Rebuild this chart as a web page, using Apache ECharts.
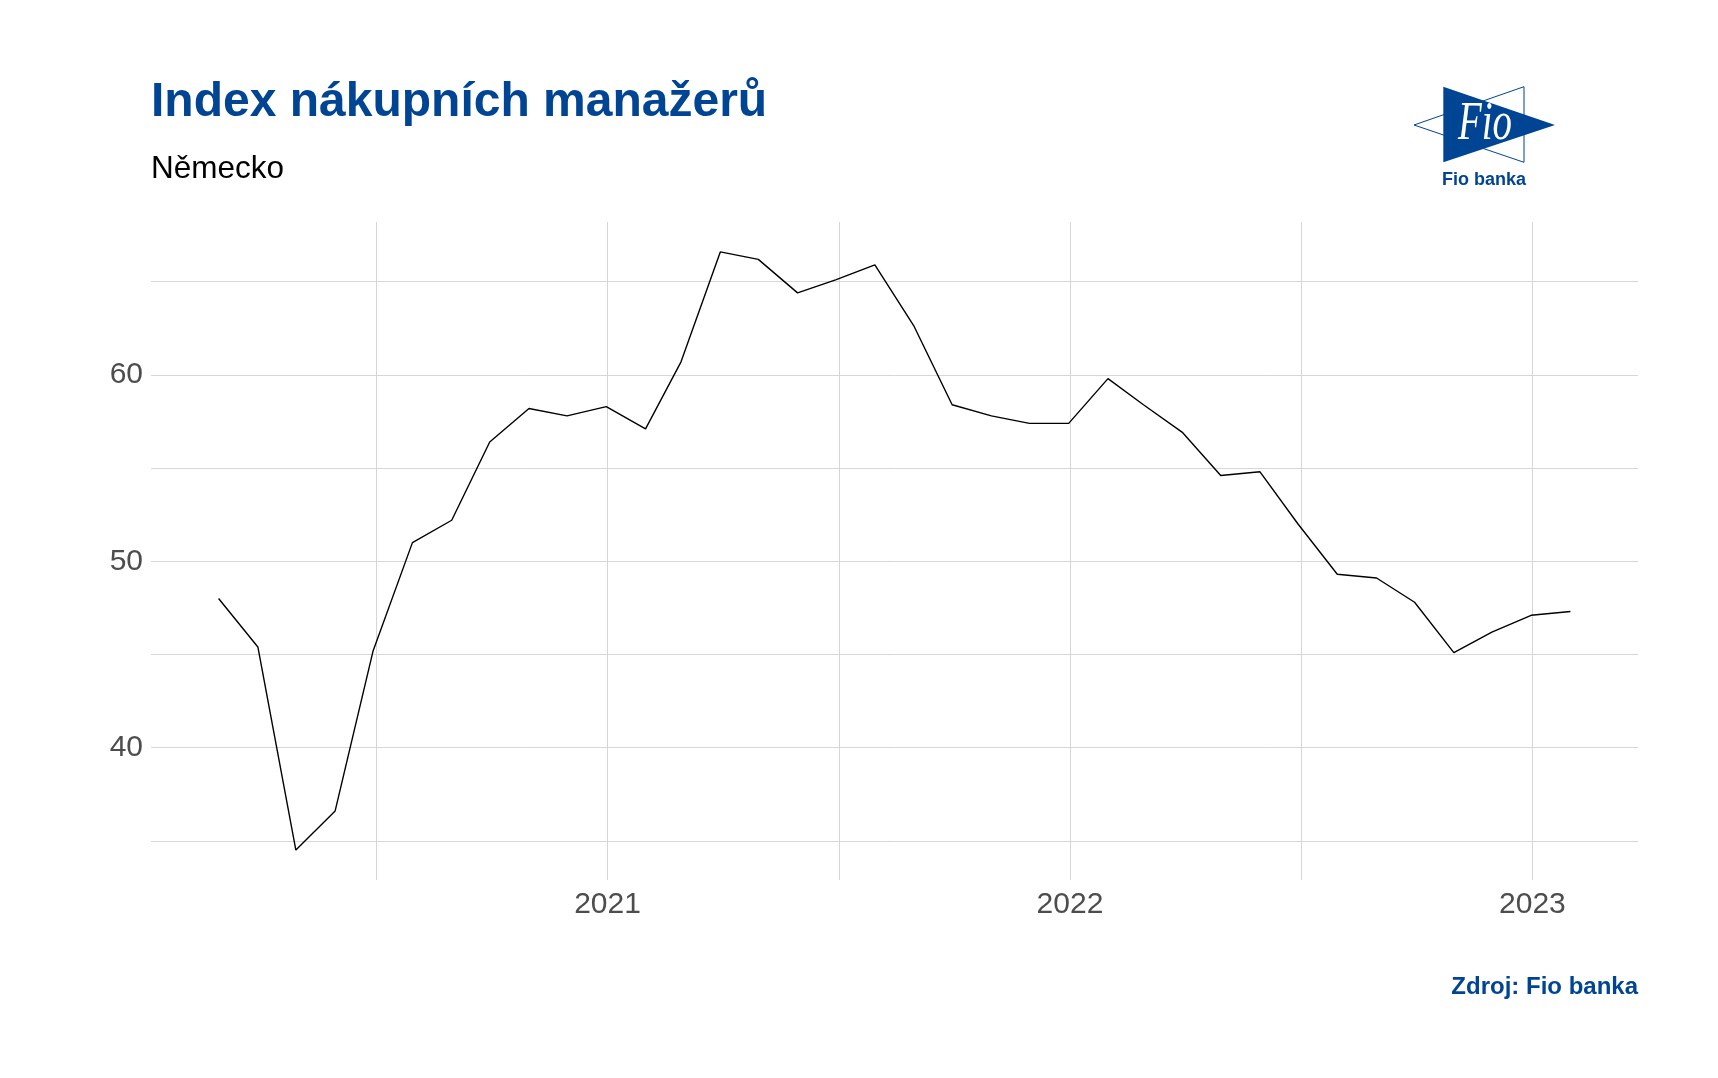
<!DOCTYPE html>
<html>
<head>
<meta charset="utf-8">
<script src="https://cdn.jsdelivr.net/npm/echarts@6/dist/echarts.min.js"></script>
<style>
html,body{margin:0;padding:0;background:#ffffff;}
#chart{width:1718px;height:1078px;}
</style>
</head>
<body>
<div id="chart"></div>
<script>
// Monthly dates (month-end)
const months = [
  '2020-02-29','2020-03-31','2020-04-30','2020-05-31','2020-06-30','2020-07-31',
  '2020-08-31','2020-09-30','2020-10-31','2020-11-30','2020-12-31',
  '2021-01-31','2021-02-28','2021-03-31','2021-04-30','2021-05-31','2021-06-30',
  '2021-07-31','2021-08-31','2021-09-30','2021-10-31','2021-11-30','2021-12-31',
  '2022-01-31','2022-02-28','2022-03-31','2022-04-30','2022-05-31','2022-06-30',
  '2022-07-31','2022-08-31','2022-09-30','2022-10-31','2022-11-30','2022-12-31',
  '2023-01-31'
];
// PMI values (Germany)
const pmi = [
  48.0, 45.4, 34.5, 36.6, 45.2, 51.0, 52.2, 56.4, 58.2, 57.8, 58.3,
  57.1, 60.7, 66.6, 66.2, 64.4, 65.1, 65.9, 62.6, 58.4, 57.8, 57.4, 57.4,
  59.8, 58.4, 56.9, 54.6, 54.8, 52.0, 49.3, 49.1, 47.8, 45.1, 46.2, 47.1,
  47.3
];
// x-axis breaks: labelled years and mid-year minor gridlines
const majorBreaks = ['2021-01-01', '2022-01-01', '2023-01-01'];
const minorBreaks = ['2020-07-02 12:00', '2021-07-02 12:00', '2022-07-02 12:00'];
const yLabelValues = [40, 50, 60];
const titleText = 'Index nákupních manažerů';
const subtitleText = 'Německo';
const sourceText = 'Zdroj: Fio banka';

const BLUE = '#004494';
const GRID = '#d6d6d6';

const seriesData = months.map((m, i) => [m, pmi[i]]);
const expand = v => 0.05 * (v.max - v.min);
const majorTs = majorBreaks.map(d => echarts.time.parse(d).getTime());

const chart = echarts.init(document.getElementById('chart'), null, {renderer: 'canvas'});
chart.setOption({
  backgroundColor: '#ffffff',
  animation: false,
  grid: {left: 151, right: 80, top: 222, bottom: 198, containLabel: false},
  xAxis: {
    type: 'time',
    min: v => v.min - expand(v),
    max: v => v.max + expand(v),
    splitNumber: 6,
    axisLine: {show: false},
    axisTick: {show: false},
    splitLine: {show: false},
    axisLabel: {
      show: true,
      margin: 10,
      hideOverlap: false,
      showMinLabel: false,
      showMaxLabel: false,
      color: '#4d4d4d',
      fontSize: 30,
      fontFamily: 'Liberation Sans',
      formatter: function (val) {
        const t = typeof val === 'number' ? val : +val;
        return majorTs.indexOf(t) >= 0 ? String(new Date(t).getFullYear()) : '';
      }
    }
  },
  yAxis: {
    type: 'value',
    min: v => v.min - expand(v),
    max: v => v.max + expand(v),
    splitNumber: 7,
    minInterval: 5,
    maxInterval: 5,
    axisLine: {show: false},
    axisTick: {show: false},
    splitLine: {show: true, showMinLine: false, showMaxLine: false, lineStyle: {color: GRID, width: 1}},
    axisLabel: {
      margin: 8,
      showMinLabel: false,
      showMaxLabel: false,
      color: '#4d4d4d',
      fontSize: 30,
      fontFamily: 'Liberation Sans',
      formatter: function (val) {
        return yLabelValues.indexOf(Math.round(val * 1000) / 1000) >= 0 ? String(val) : '';
      }
    }
  },
  series: [
    {
      type: 'line',
      data: [],
      z: 0,
      silent: true,
      markLine: {
        z: 0,
        silent: true,
        symbol: ['none', 'none'],
        label: {show: false},
        emphasis: {disabled: true},
        animation: false,
        lineStyle: {color: GRID, width: 1, type: 'solid'},
        data: majorBreaks.concat(minorBreaks).map(d => ({xAxis: d}))
      }
    },
    {
      type: 'line',
      z: 10,
      data: seriesData,
      showSymbol: false,
      symbol: 'none',
      lineStyle: {color: '#000000', width: 1.4},
      itemStyle: {color: '#000000'}
    }
  ],
  graphic: [
    {type: 'text', x: 151, y: 102.5,
      style: {text: titleText, fill: BLUE, fontSize: 48, fontWeight: 'bold', fontFamily: 'Liberation Sans',
        align: 'left', verticalAlign: 'middle', textAlign: 'left', textVerticalAlign: 'middle'}},
    {type: 'text', x: 151, y: 169.5,
      style: {text: subtitleText, fill: '#000000', fontSize: 31.5, fontFamily: 'Liberation Sans',
        align: 'left', verticalAlign: 'middle', textAlign: 'left', textVerticalAlign: 'middle'}},
    {type: 'text', x: 1638, y: 987,
      style: {text: sourceText, fill: BLUE, fontSize: 24, fontWeight: 'bold', fontFamily: 'Liberation Sans',
        align: 'right', verticalAlign: 'middle', textAlign: 'right', textVerticalAlign: 'middle'}},
    // Logo
    {type: 'polygon', shape: {points: [[1524, 86.7], [1524, 162.3], [1414, 125]]},
      style: {fill: '#ffffff', stroke: BLUE, lineWidth: 1}},
    {type: 'polygon', shape: {points: [[1443.3, 86.7], [1443.3, 162.3], [1555, 125]]},
      style: {fill: BLUE}},
    {type: 'text', x: 1485, y: 125, scaleX: 0.72,
      style: {text: 'Fio', x: 0, y: 0, fill: '#ffffff', fontSize: 54, fontStyle: 'italic', fontFamily: 'Liberation Serif',
        align: 'center', verticalAlign: 'middle', textAlign: 'center', textVerticalAlign: 'middle'}},
    {type: 'text', x: 1484, y: 180,
      style: {text: 'Fio banka', fill: BLUE, fontSize: 18, fontWeight: 'bold', fontFamily: 'Liberation Sans',
        align: 'center', verticalAlign: 'middle', textAlign: 'center', textVerticalAlign: 'middle'}}
  ]
});
</script>
</body>
</html>
